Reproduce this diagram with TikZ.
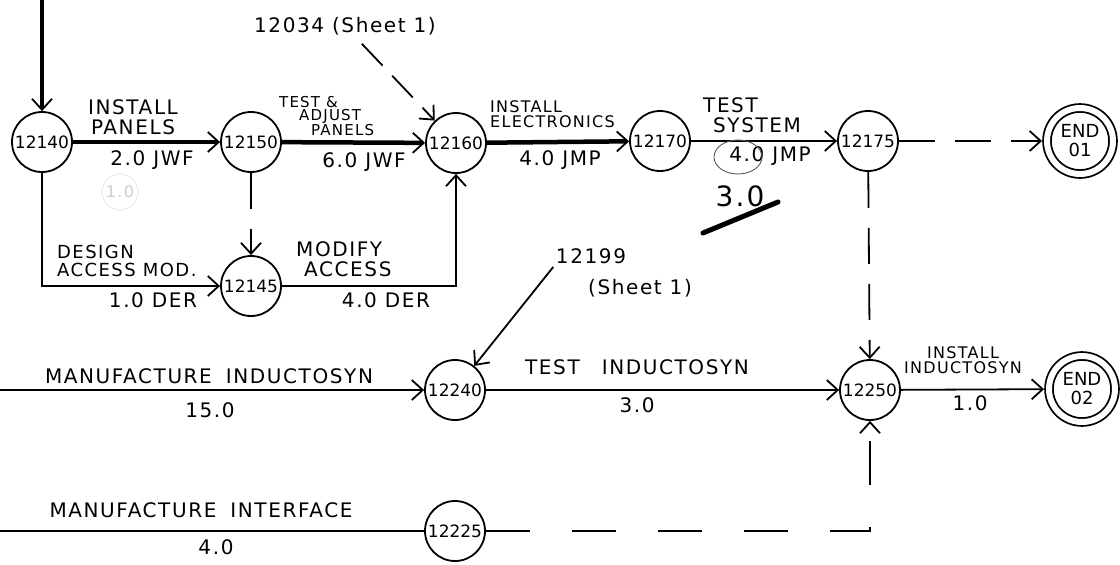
\documentclass[tikz,border=0pt]{standalone}
\usepackage{fontspec}
\setmainfont{DejaVu Sans}
\newfontfamily\handfont{DejaVu Sans}[LetterSpace=8]
\usetikzlibrary{arrows.meta}

\begin{document}
\begin{tikzpicture}[x=1pt, y=-1pt,
    evt/.style={circle, draw, line width=1.8pt, minimum size=60pt, inner sep=0pt,
        font=\fontsize{17}{17}\selectfont},
    endevt/.style={evt, double, double distance=6pt, minimum size=66pt, outer sep=5pt,
        align=center, font=\fontsize{18}{19}\selectfont},
    lbl/.style={inner sep=0pt, font=\handfont\fontsize{20}{20}\selectfont},
    lblsmall/.style={inner sep=0pt, font=\handfont\fontsize{16}{15}\selectfont},
    arr/.style={line width=1.8pt, -{Straight Barb[length=11pt, width=20pt, line width=1.8pt]}},
    crit/.style={line width=4.5pt},
    dummy/.style={dash pattern=on 36pt off 20pt}]

        \useasboundingbox (0,0) rectangle (1120,565);

        % Events, upper chain
        \node[evt] (n12140) at (42,142) {12140};
        \node[evt] (n12150) at (251,142) {12150};
        \node[evt] (n12160) at (456,143) {12160};
        \node[evt] (n12170) at (660,141) {12170};
        \node[evt] (n12175) at (868,141) {12175};
        \node[endevt] (e01) at (1080,141) {END\\01};
        \node[evt] (n12145) at (251,286) {12145};

        % Events, lower chains
        \node[evt] (n12240) at (455,390) {12240};
        \node[evt] (n12250) at (870,390) {12250};
        \node[endevt] (e02) at (1082,389) {END\\02};
        \node[evt] (n12225) at (455,531) {12225};

        % Free ends
        \coordinate (top) at (42,0);
        \coordinate (inIndu) at (0,390);
        \coordinate (inIntf) at (0,531);

        % Other sheets
        \node[lbl] (l12034) at (345,26) {12034 (Sheet 1)};
        \node[lbl] (l12199) at (591,256) {12199};
        \node[lbl] (lSheet) at (640,288) {(Sheet 1)};

        % Critical path
        \draw[arr, crit] (top) -- (n12140);
        \draw[arr, crit] (n12140) -- (n12150);
        \draw[arr, crit] (n12150) -- (n12160);
        \draw[arr, crit] (n12160) -- (n12170);
        \draw[arr, line width=2.6pt] (n12170) -- (n12175);

        % Side branch through 12145
        \draw[arr] (n12140) |- (n12145);
        \draw[arr] (n12145) -| (n12160);
        \draw[arr, dummy] (n12150) -- (n12145);

        % Dummies and links
        \draw[arr, dash pattern=on 30pt off 14pt, shorten <=12pt] (l12034) -- (n12160);
        \draw[arr, dummy] (n12175) -- (e01);
        \draw[arr, dummy] (n12175) -- (n12250);
        \draw[arr, shorten <=4pt] (l12199.south west) -- (n12240);

        % Lower chains
        \draw[arr] (inIndu) -- (n12240);
        \draw[arr] (n12240) -- (n12250);
        \draw[arr] (n12250) -- (e02);
        \draw[line width=1.8pt] (inIntf) -- (n12225);
        \draw[arr, dash pattern=on 44pt off 42pt] (n12225) -| (n12250);

        % Activity labels, upper chain
        \node[lbl, align=center] (aInstPan) at (133,117) {INSTALL\\PANELS};
        \node[lbl] (dInstPan) at (152,160) {2.0 JWF};
        \node[lblsmall, align=left, anchor=west, font=\handfont\fontsize{15}{13}\selectfont]
            (aTestPan) at (279,116) {TEST \&\\\hspace{20pt}ADJUST\\\hspace{32pt}PANELS};
        \node[lbl] (dTestPan) at (364,162) {6.0 JWF};
        \node[lblsmall, align=left, anchor=west] (aInstEl) at (490,114) {INSTALL\\ELECTRONICS};
        \node[lbl] (dInstEl) at (560,160) {4.0 JMP};
        \node[lbl, align=left, anchor=west] (aTestSys) at (703,115) {TEST\\\hspace{10pt}SYSTEM};
        \node[lbl] (dTestSys) at (770,156) {4.0 JMP};

        % Activity labels, side branch
        \node[lbl, align=left, anchor=west, font=\handfont\fontsize{18}{18}\selectfont]
            (aDesign) at (57,261) {DESIGN\\ACCESS MOD.};
        \node[lbl] (dDesign) at (153,300) {1.0 DER};
        \node[lbl, align=left, anchor=west] (aModify) at (296,259) {MODIFY\\\hspace{8pt}ACCESS};
        \node[lbl] (dModify) at (386,300) {4.0 DER};

        % Activity labels, lower chains
        \node[lbl] (aManInd) at (209,376) {MANUFACTURE\hspace{14pt}INDUCTOSYN};
        \node[lbl] (dManInd) at (210,410) {15.0};
        \node[lbl] (aTestInd) at (637,367) {TEST\hspace{22pt}INDUCTOSYN};
        \node[lbl] (dTestInd) at (637,405) {3.0};
        \node[lblsmall, align=center] (aInstInd) at (963,360) {INSTALL\\INDUCTOSYN};
        \node[lbl] (dInstInd) at (970,403) {1.0};
        \node[lbl] (aManInt) at (201,510) {MANUFACTURE\hspace{14pt}INTERFACE};
        \node[lbl] (dManInt) at (216,547) {4.0};

        % Pencil marks
        \node[lblsmall, circle, draw=black!15, text=black!20, inner sep=2pt] (pencil) at (120,192) {1.0};
        \draw[black!65, line width=0.9pt] (738,157) ellipse [x radius=24pt, y radius=17pt];
        \node[lbl, font=\handfont\fontsize{28}{28}\selectfont] (l30) at (740,196) {3.0};
        \draw[line width=5pt, line cap=round] (703,233) -- (778,202);

    \end{tikzpicture}
\end{document}
